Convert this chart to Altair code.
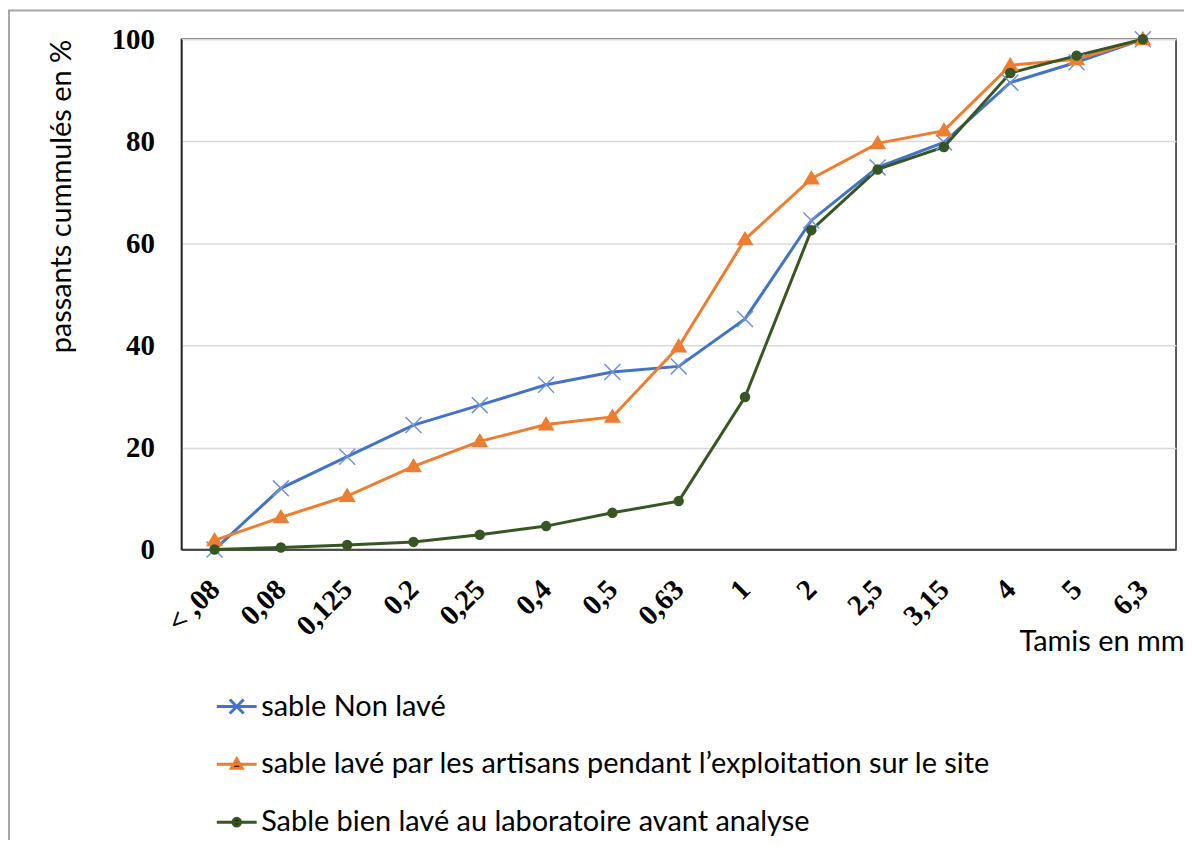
import altair as alt
import pandas as pd

categories = ["< ,08", "0,08", "0,125", "0,2", "0,25", "0,4", "0,5", "0,63",
              "1", "2", "2,5", "3,15", "4", "5", "6,3"]
series_names = [
    "sable Non lavé",
    "sable lavé par les artisans pendant l’exploitation sur le site",
    "Sable bien lavé au laboratoire avant analyse",
]
non_lave = [0, 12.0, 18.2, 24.4, 28.3, 32.3, 34.8, 35.9, 45.2, 64.5, 74.9, 79.8, 91.5, 95.5, 100]
artisans = [1.8, 6.3, 10.5, 16.3, 21.2, 24.5, 26.0, 39.8, 60.8, 72.7, 79.6, 82.1, 94.9, 96.1, 100]
labo = [0, 0.4, 0.9, 1.5, 2.9, 4.6, 7.2, 9.5, 29.9, 62.6, 74.5, 78.9, 93.4, 96.8, 100]
y_ticks = [0, 20, 40, 60, 80, 100]

line_colors = ["#4472C4", "#ED7D31", "#375623"]
marker_strokes = ["#6E93DA", "#ED7D31", "#375623"]

marker_paths = [
    "M-0.8,-0.8L0.8,0.8M-0.8,0.8L0.8,-0.8",
    "M0,-0.7L0.72,0.52L-0.72,0.52Z",
    "M-0.45,0A0.45,0.45,0,1,0,0.45,0A0.45,0.45,0,1,0,-0.45,0Z",
]
legend_paths = [
    "M-2,0L2,0M-0.7,-0.7L0.7,0.7M-0.7,0.7L0.7,-0.7",
    "M-2,0L2,0M0,-0.55L0.55,0.4L-0.55,0.4Z",
    "M-2,0L2,0M-0.38,0A0.38,0.38,0,1,0,0.38,0A0.38,0.38,0,1,0,-0.38,0Z",
]

rows = []
for name, vals in zip(series_names, [non_lave, artisans, labo]):
    for c, v in zip(categories, vals):
        rows.append({"tamis": c, "passant": v, "serie": name})
df = pd.DataFrame(rows)

label_font = "Liberation Serif"
text_font = "Lato"

x_enc = alt.X("tamis:N", sort=categories,
              scale=alt.Scale(type="point", padding=0.5),
              axis=alt.Axis(title="Tamis en mm", labelAngle=-45, labelAlign="right",
                            labelBaseline="middle", labelPadding=35,
                            titleX=1006, titleY=92, titleAlign="right",
                            titleBaseline="middle"))
y_enc = alt.Y("passant:Q", scale=alt.Scale(domain=[0, 100], nice=False),
              axis=alt.Axis(title="passants cummulés en %", values=y_ticks,
                            titleAnchor="end", titleX=-120, titleBaseline="middle",
                            labelPadding=27))
color_scale = alt.Scale(domain=series_names, range=line_colors)

base = alt.Chart(df)

lines = base.mark_line(strokeWidth=3).encode(
    x=x_enc, y=y_enc,
    color=alt.Color("serie:N", scale=color_scale, legend=None),
)

points = base.mark_point(filled=True, size=400, strokeWidth=1.5, opacity=1).encode(
    x=x_enc, y=y_enc,
    color=alt.Color("serie:N", scale=color_scale, legend=None),
    shape=alt.Shape("serie:N", scale=alt.Scale(domain=series_names, range=marker_paths),
                    legend=None),
    stroke=alt.Stroke("serie:N", scale=alt.Scale(domain=series_names, range=marker_strokes),
                      legend=None),
)

leg = dict(title=None, orient="none", legendX=41, legendY=655,
           direction="vertical", symbolSize=400, labelOffset=10,
           rowPadding=28, labelLimit=1200, padding=0, symbolStrokeWidth=3,
           symbolOpacity=1,
           labelFont=text_font, labelFontSize=29, labelColor="#000000")

legend_layer = base.transform_filter("false").mark_point(
    filled=True, size=400, strokeWidth=3, opacity=1
).encode(
    x=x_enc, y=y_enc,
    color=alt.Color("serie:N", scale=color_scale, legend=alt.Legend(**leg)),
    shape=alt.Shape("serie:N", scale=alt.Scale(domain=series_names, range=legend_paths),
                    legend=alt.Legend(**leg)),
    stroke=alt.Stroke("serie:N", scale=alt.Scale(domain=series_names, range=line_colors),
                      legend=alt.Legend(**leg)),
)

frame = alt.Chart(alt.Data(values=[{"k": 1}])).mark_rect(
    fillOpacity=0, stroke="#A6A6A6", strokeWidth=2
).encode(x=alt.value(-173), x2=alt.value(1300), y=alt.value(-29), y2=alt.value(1000))

chart = alt.layer(frame, lines, points, legend_layer).resolve_scale(
    shape="independent", stroke="independent"
).properties(
    width=998, height=512,
    autosize=alt.AutoSizeParams(type="none"),
    padding={"left": 174, "top": 30, "right": 8, "bottom": 290},
    background="#FFFFFF",
).configure_view(
    stroke="#262626", strokeWidth=1.5
).configure_axis(
    grid=False, ticks=False, domain=True, domainColor="#262626", domainWidth=1.5,
    labelFont=label_font, labelFontWeight="bold", labelFontSize=29, labelColor="#000000",
    titleFont=text_font, titleFontWeight="normal", titleFontSize=29, titleColor="#000000",
).configure_axisY(
    grid=True, gridColor="#D9D9D9", gridWidth=1.5,
)

chart.save("out.html", embed_options={"renderer": "svg", "actions": False})
